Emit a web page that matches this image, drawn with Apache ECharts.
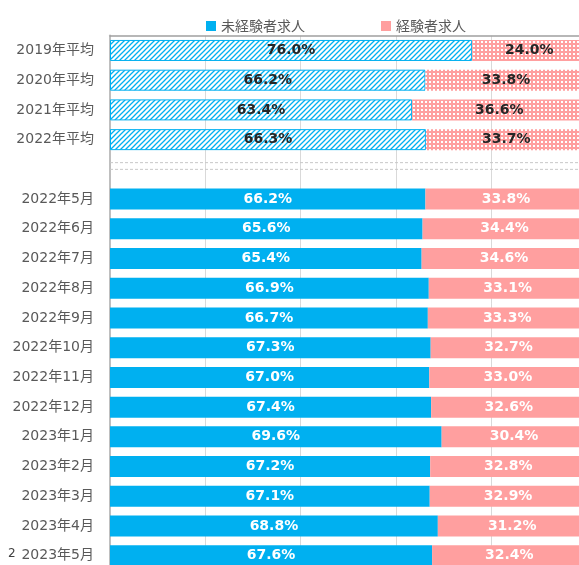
<!DOCTYPE html>
<html>
<head>
<meta charset="utf-8">
<script src="https://cdn.jsdelivr.net/npm/echarts@6/dist/echarts.min.js"></script>
<style>
html,body{margin:0;padding:0;background:#fff;overflow:hidden;width:579px;height:565px;}
#main{width:587px;height:571px;}
</style>
</head>
<body>
<div id="main"></div>
<script>
var categories = ['2019年平均','2020年平均','2021年平均','2022年平均','',
  '2022年5月','2022年6月','2022年7月','2022年8月','2022年9月','2022年10月','2022年11月','2022年12月',
  '2023年1月','2023年2月','2023年3月','2023年4月','2023年5月'];
var inexperienced = [76.0,66.2,63.4,66.3,null,66.2,65.6,65.4,66.9,66.7,67.3,67.0,67.4,69.6,67.2,67.1,68.8,67.6];
var experienced  = [24.0,33.8,36.6,33.7,null,33.8,34.4,34.6,33.1,33.3,32.7,33.0,32.6,30.4,32.8,32.9,31.2,32.4];
var seriesNames = ['未経験者求人','経験者求人'];
var averageCount = 4;

var BLUE = '#00B0F0', PINK = '#FF9F9F';

function hatchPattern(){
  var n = 5, c = document.createElement('canvas');
  c.width = n; c.height = n;
  var g = c.getContext('2d');
  g.fillStyle = '#fff'; g.fillRect(0,0,n,n);
  g.strokeStyle = BLUE; g.lineWidth = 1.3;
  g.beginPath();
  g.moveTo(-1, n+1); g.lineTo(n+1, -1);
  g.moveTo(-1, 1); g.lineTo(1, -1);
  g.moveTo(n-1, n+1); g.lineTo(n+1, n-1);
  g.stroke();
  return c;
}
function dotPattern(){
  var n = 4, c = document.createElement('canvas');
  c.width = n; c.height = n;
  var g = c.getContext('2d');
  g.fillStyle = PINK; g.fillRect(0,0,n,n);
  g.fillStyle = '#fff'; g.fillRect(1,1,2,2);
  return c;
}
var hatch = {image: hatchPattern(), repeat: 'repeat'};
var dots = {image: dotPattern(), repeat: 'repeat'};

function buildData(values, isBlue){
  return values.map(function(v, i){
    if (v === null) return '-';
    if (i < averageCount) {
      return {
        value: v,
        itemStyle: isBlue ? {color: hatch, borderColor: BLUE, borderWidth: 1} : {color: dots},
        label: {color: '#262626'}
      };
    }
    return {value: v};
  });
}

var labelCfg = {
  show: true, position: 'inside', color: '#fff',
  fontFamily: 'DejaVu Sans', fontWeight: 'bold', fontSize: 14,
  formatter: function(p){ return p.value.toFixed(1) + '%'; }
};

var chart = echarts.init(document.getElementById('main'), null, {renderer: 'canvas'});
chart.setOption({
  animation: false,
  backgroundColor: '#fff',
  legend: {
    data: seriesNames, left: 201, top: 14, itemWidth: 10, itemHeight: 10, itemGap: 76,
    icon: 'rect',
    textStyle: {color: '#595959', fontSize: 14, fontFamily: 'Noto Sans CJK JP'}
  },
  grid: {left: 110, right: 0.5, top: 35.6, bottom: 0.4, containLabel: false},
  xAxis: {
    type: 'value', min: 0, max: 100, interval: 20, position: 'top',
    axisLabel: {show: false}, axisTick: {show: false},
    axisLine: {show: true, lineStyle: {color: '#a0a0a0', width: 1.5}},
    splitLine: {show: true, lineStyle: {color: '#d9d9d9', width: 1}}
  },
  yAxis: {
    type: 'category', data: categories, inverse: true,
    axisTick: {show: false},
    axisLine: {show: true, lineStyle: {color: '#bfbfbf', width: 2}},
    axisLabel: {color: '#595959', fontSize: 14, margin: 16, fontFamily: 'DejaVu Sans, Noto Sans CJK JP'}
  },
  series: [
    {name: seriesNames[0], type: 'bar', stack: 'total', barWidth: 21, itemStyle: {color: BLUE},
     label: labelCfg, data: buildData(inexperienced, true)},
    {name: seriesNames[1], type: 'bar', stack: 'total', barWidth: 21, itemStyle: {color: PINK},
     label: labelCfg, data: buildData(experienced, false)}
  ]
});

var yc = chart.convertToPixel({yAxisIndex: 0}, 4);
var x0 = chart.convertToPixel({xAxisIndex: 0}, 0);
chart.setOption({
  graphic: [
    {type: 'line', shape: {x1: x0, y1: yc - 6.7, x2: 587, y2: yc - 6.7},
     style: {stroke: '#c8c8c8', lineWidth: 1, lineDash: [3, 2]}, z: 10},
    {type: 'line', shape: {x1: x0, y1: yc, x2: 587, y2: yc},
     style: {stroke: '#c8c8c8', lineWidth: 1, lineDash: [3, 2]}, z: 10},
    {type: 'text', left: 8, top: 548, style: {text: '2', fontSize: 12, fill: '#404040', fontFamily: 'DejaVu Sans'}}
  ]
});
</script>
</body>
</html>
